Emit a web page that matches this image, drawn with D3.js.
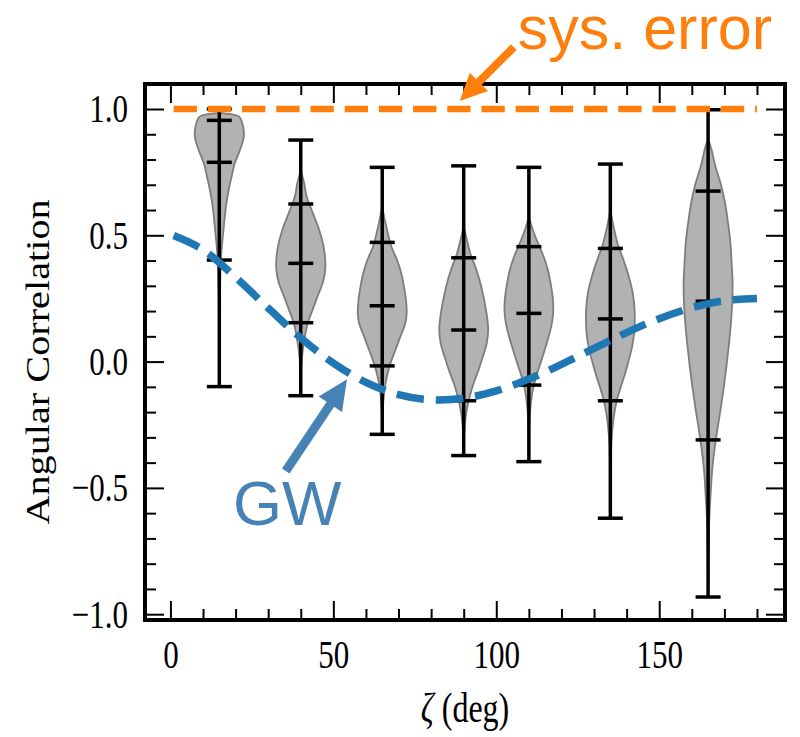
<!DOCTYPE html>
<html>
<head>
<meta charset="utf-8">
<script src="https://cdn.jsdelivr.net/npm/d3@7"></script>
<style>
  body { margin: 0; background: #fff; }
  svg { display: block; }
</style>
</head>
<body>
<svg id="chart" width="800" height="737"></svg>
<script>
// ---- data -------------------------------------------------------------
// angular-separation bins (deg) holding one violin each
const angles   = [15, 40, 65, 90, 110, 135, 165];
// error-bar levels per bin
const maxima   = [1.000, 0.877, 0.769, 0.775, 0.769, 0.782, 0.997];
const upper    = [0.955, 0.624, 0.472, 0.411, 0.455, 0.448, 0.675];
const middle   = [0.789, 0.389, 0.221, 0.125, 0.191, 0.169, 0.239];
const lower    = [0.402, 0.154, -0.017, -0.155, -0.093, -0.155, -0.310];
const minima   = [-0.099, -0.135, -0.288, -0.372, -0.396, -0.620, -0.932];

// kernel density profiles: [correlation, relative density]
const kde15  = [[0.985,0],[0.978,14],[0.969,20.7],[0.930,24.7],[0.890,25.3],[0.837,21.3],[0.785,16],[0.732,12.7],[0.679,9.7],[0.626,7.3],[0.574,5.7],[0.508,4],[0.442,2.3],[0.376,1.3],[0.297,0.7],[0.178,0.3],[-0.099,0]];
const kde40  = [[0.758,0],[0.706,3.3],[0.653,5.7],[0.587,11.7],[0.521,17.7],[0.468,21.3],[0.415,23.3],[0.362,23.5],[0.310,21],[0.257,16],[0.204,11.3],[0.152,6.7],[0.099,4],[0.046,2],[-0.007,0.7],[-0.059,0]];
const kde65  = [[0.613,0],[0.560,2.7],[0.508,5.7],[0.455,9.3],[0.402,15],[0.349,19.3],[0.296,22],[0.244,24],[0.191,24.7],[0.152,23.3],[0.099,18.3],[0.046,13.3],[-0.007,8.3],[-0.059,4.7],[-0.112,2.3],[-0.165,1],[-0.231,0]];
const kde90  = [[0.534,0],[0.481,3.3],[0.428,6.7],[0.376,11.7],[0.323,16],[0.270,19.3],[0.217,22],[0.165,24],[0.125,24.7],[0.072,23.3],[0.019,19.3],[-0.033,15],[-0.086,10],[-0.139,6],[-0.192,3],[-0.244,1.3],[-0.310,0]];
const kde110 = [[0.573,0],[0.521,4],[0.468,9.3],[0.415,15],[0.362,19.3],[0.310,22],[0.257,24],[0.204,24.7],[0.152,23.3],[0.099,20],[0.046,16],[-0.007,11.7],[-0.060,7.3],[-0.112,4],[-0.165,2],[-0.231,0.7],[-0.297,0]];
const kde135 = [[0.600,0],[0.534,3.3],[0.468,7.3],[0.402,13.3],[0.336,18.7],[0.270,22.7],[0.217,24.3],[0.165,24.7],[0.112,24],[0.059,22],[0.006,18.7],[-0.046,15],[-0.099,10.7],[-0.152,6.7],[-0.205,4],[-0.258,2.3],[-0.323,1],[-0.416,0.4],[-0.495,0]];
const kde165 = [[0.882,0],[0.841,10],[0.772,22],[0.703,38],[0.633,50],[0.564,58],[0.481,66],[0.398,70],[0.315,73],[0.232,72],[0.149,68],[0.066,62],[-0.017,55],[-0.100,47],[-0.183,38],[-0.266,28],[-0.349,19],[-0.432,12],[-0.515,8],[-0.611,4],[-0.722,2],[-0.846,0.5],[-0.929,0]];
const profiles = [kde15, kde40, kde65, kde90, kde110, kde135, kde165];

// expected gravitational-wave correlation vs separation
const gwAngles      = [1, 10, 20, 30, 40, 50, 60, 70, 80, 90, 100, 110, 120, 130, 140, 150, 160, 170, 180];
const gwCorrelation = [0.499, 0.443, 0.334, 0.212, 0.094, -0.006, -0.082, -0.131, -0.151, -0.145, -0.116, -0.069, -0.011, 0.052, 0.115, 0.170, 0.213, 0.241, 0.250];

// systematic-error correlation level
const sysAngles      = [1, 180];
const sysCorrelation = [1, 1];

// axis ticks
const xMajorTicks = [0, 50, 100, 150];
const xMinorTicks = [10, 20, 30, 40, 60, 70, 80, 90, 110, 120, 130, 140, 160, 170, 180];
const yMajorTicks = [-1.0, -0.5, 0.0, 0.5, 1.0];
const yMinorTicks = [-0.9, -0.8, -0.7, -0.6, -0.4, -0.3, -0.2, -0.1, 0.1, 0.2, 0.3, 0.4, 0.6, 0.7, 0.8, 0.9];

// ---- layout -----------------------------------------------------------
const svg = d3.select("#chart");
const frame = { left: 145, right: 785, top: 84, bottom: 620 };
const x = d3.scaleLinear().domain([-7.8, 188.6]).range([frame.left, frame.right]);
const y = d3.scaleLinear().domain([-1.023, 1.099]).range([frame.bottom, frame.top]);

const serif = "'Liberation Serif', 'Times New Roman', Times, serif";
const sans  = "'Liberation Sans', Arial, Helvetica, sans-serif";
const textStretch = 1.3;
const violinWidth = 15;   // full width in degrees
const capHalf = 12.5;     // px

const fmt = d => (d < 0 ? "\u2212" : "") + Math.abs(d).toFixed(1);

// ---- violins ----------------------------------------------------------
const violins = svg.append("g");
profiles.forEach((prof, i) => {
  const peak = d3.max(prof, d => d[1]);
  const hw = d3.scaleLinear().domain([0, peak]).range([0, violinWidth / 2]);
  const area = d3.area()
    .curve(d3.curveCatmullRom.alpha(0.5))
    .y(d => y(d[0]))
    .x0(d => x(angles[i] - hw(d[1])))
    .x1(d => x(angles[i] + hw(d[1])));
  violins.append("path")
    .attr("d", area(prof))
    .attr("fill", "#b2b2b2")
    .attr("stroke", "#7d7d7d")
    .attr("stroke-width", 1.8);
});

// ---- error bars -------------------------------------------------------
const bars = svg.append("g").attr("stroke", "#000");
angles.forEach((a, i) => {
  const cx = x(a);
  bars.append("line")
    .attr("x1", cx).attr("x2", cx)
    .attr("y1", y(maxima[i])).attr("y2", y(minima[i]))
    .attr("stroke-width", 3.5);
  [maxima[i], upper[i], middle[i], lower[i], minima[i]].forEach(v => {
    bars.append("line")
      .attr("x1", cx - capHalf).attr("x2", cx + capHalf)
      .attr("y1", y(v)).attr("y2", y(v))
      .attr("stroke-width", 3.5);
  });
});

// ---- curves -----------------------------------------------------------
const line = d3.line().curve(d3.curveCatmullRom.alpha(0.5)).x(d => x(d[0])).y(d => y(d[1]));

svg.append("path")
  .attr("d", line(gwAngles.map((a, i) => [a, gwCorrelation[i]])))
  .attr("fill", "none")
  .attr("stroke", "#1f77b4")
  .attr("stroke-width", 7.5)
  .attr("stroke-dasharray", "27.5 12");

svg.append("path")
  .attr("d", line(sysAngles.map((a, i) => [a, sysCorrelation[i]])))
  .attr("fill", "none")
  .attr("stroke", "#ff7f0e")
  .attr("stroke-width", 6.5)
  .attr("stroke-dasharray", "23.3 10.9");

// ---- axes (inward ticks on all four sides) ----------------------------
function styleAxis(g) {
  g.select(".domain").remove();
  g.selectAll(".tick line").attr("stroke", "#000").attr("stroke-width", 2);
  g.selectAll(".tick text")
    .attr("fill", "#000")
    .attr("font-family", serif)
    .attr("font-size", 31);
}
const majorLen = 19, minorLen = 11;

svg.append("g").attr("transform", `translate(${frame.left},0)`)
  .call(d3.axisLeft(y).tickValues(yMajorTicks).tickSize(-majorLen).tickPadding(17).tickFormat(fmt))
  .call(styleAxis)
  .selectAll(".tick text").attr("transform", `scale(1,${textStretch})`);
svg.append("g").attr("transform", `translate(${frame.left},0)`)
  .call(d3.axisLeft(y).tickValues(yMinorTicks).tickSize(-minorLen).tickFormat(""))
  .call(styleAxis);
svg.append("g").attr("transform", `translate(${frame.right},0)`)
  .call(d3.axisRight(y).tickValues(yMajorTicks).tickSize(-majorLen).tickFormat(""))
  .call(styleAxis);
svg.append("g").attr("transform", `translate(${frame.right},0)`)
  .call(d3.axisRight(y).tickValues(yMinorTicks).tickSize(-minorLen).tickFormat(""))
  .call(styleAxis);

svg.append("g").attr("transform", `translate(0,${frame.bottom})`)
  .call(d3.axisBottom(x).tickValues(xMajorTicks).tickSize(-majorLen).tickPadding(15).tickFormat(d3.format("d")))
  .call(styleAxis)
  .selectAll(".tick text").attr("transform", `scale(1,${textStretch})`);
svg.append("g").attr("transform", `translate(0,${frame.bottom})`)
  .call(d3.axisBottom(x).tickValues(xMinorTicks).tickSize(-minorLen).tickFormat(""))
  .call(styleAxis);
svg.append("g").attr("transform", `translate(0,${frame.top})`)
  .call(d3.axisTop(x).tickValues(xMajorTicks).tickSize(-majorLen).tickFormat(""))
  .call(styleAxis);
svg.append("g").attr("transform", `translate(0,${frame.top})`)
  .call(d3.axisTop(x).tickValues(xMinorTicks).tickSize(-minorLen).tickFormat(""))
  .call(styleAxis);

svg.append("rect")
  .attr("x", frame.left).attr("y", frame.top)
  .attr("width", frame.right - frame.left).attr("height", frame.bottom - frame.top)
  .attr("fill", "none").attr("stroke", "#000").attr("stroke-width", 4);

// ---- axis titles ------------------------------------------------------
svg.append("text")
  .attr("transform", `translate(49,362) scale(1,1.22) rotate(-90)`)
  .attr("text-anchor", "middle")
  .attr("font-family", serif)
  .attr("font-size", 33)
  .attr("fill", "#000")
  .text("Angular Correlation");

const xTitle = svg.append("text")
  .attr("transform", `translate(${(frame.left + frame.right) / 2},722) scale(1,${textStretch})`)
  .attr("text-anchor", "middle")
  .attr("font-family", serif)
  .attr("font-size", 32)
  .attr("fill", "#000");
xTitle.append("tspan").attr("font-style", "italic").text("\u03b6");
xTitle.append("tspan").text(" (deg)");

// ---- annotations ------------------------------------------------------
function arrow(from, to, color, shaft, headLen, headHalf) {
  const [x0, y0] = [x(from[0]), y(from[1])];
  const [x1, y1] = [x(to[0]), y(to[1])];
  const len = Math.hypot(x1 - x0, y1 - y0);
  const ux = (x1 - x0) / len, uy = (y1 - y0) / len;
  const bx = x1 - ux * headLen, by = y1 - uy * headLen;
  svg.append("line")
    .attr("x1", x0).attr("y1", y0).attr("x2", bx + ux).attr("y2", by + uy)
    .attr("stroke", color).attr("stroke-width", shaft);
  svg.append("path")
    .attr("d", `M${x1},${y1}L${bx - uy * headHalf},${by + ux * headHalf}L${bx + uy * headHalf},${by - ux * headHalf}Z`)
    .attr("fill", color);
}

svg.append("text")
  .attr("x", x(106.6)).attr("y", y(1.237))
  .attr("font-family", sans).attr("font-size", 61)
  .attr("fill", "#ff7f0e")
  .text("sys. error");
arrow([105.4, 1.245], [88.8, 1.032], "#ff7f0e", 8, 27, 13);

svg.append("text")
  .attr("x", x(19.2)).attr("y", y(-0.647))
  .attr("font-family", sans).attr("font-size", 63)
  .attr("fill", "#4682b4")
  .text("GW");
arrow([35.4, -0.433], [54.2, -0.07], "#4682b4", 9, 30, 14);
</script>
</body>
</html>
